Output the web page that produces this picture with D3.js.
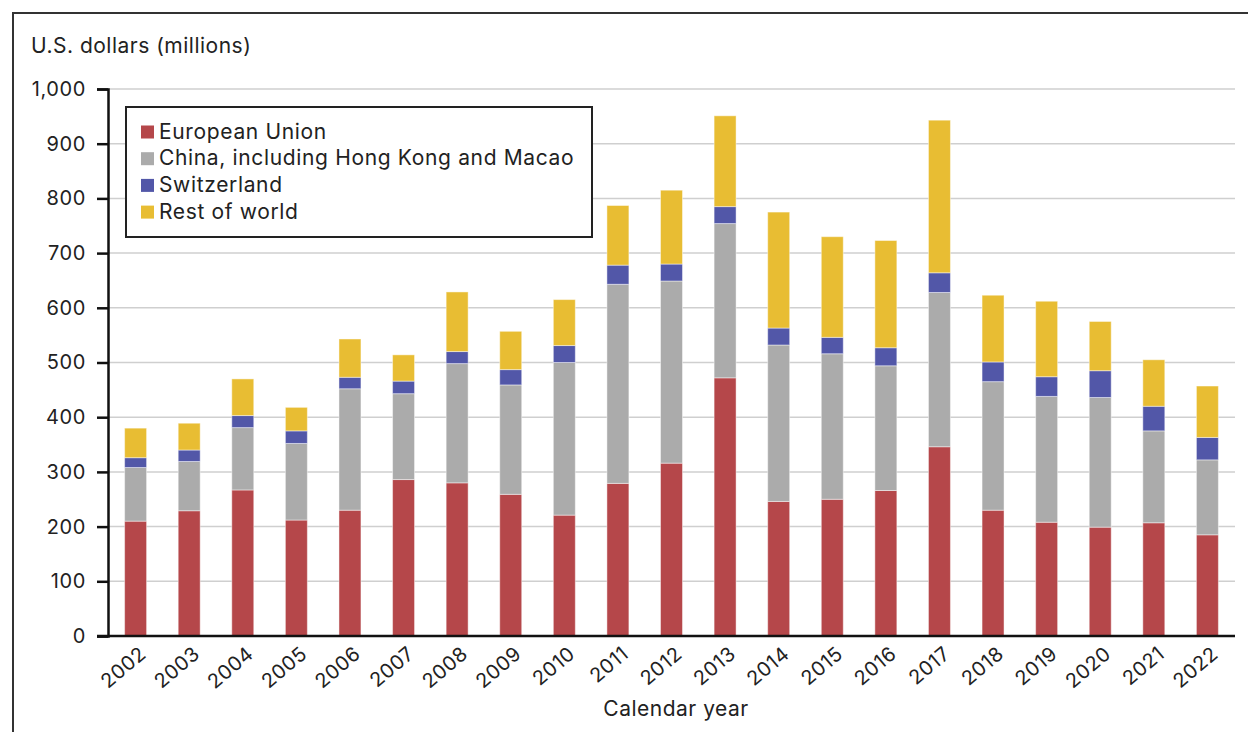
<!DOCTYPE html>
<html><head><meta charset="utf-8">
<script src="https://cdn.jsdelivr.net/npm/d3@7"></script>
<style>
html,body{margin:0;padding:0;background:#fff;}
svg{display:block;font-family:Inter,"Noto Sans",sans-serif;}
</style></head>
<body>
<svg id="chart" width="1248" height="732"></svg>
<script>
const years = ["2002","2003","2004","2005","2006","2007","2008","2009","2010","2011","2012","2013","2014","2015","2016","2017","2018","2019","2020","2021","2022"];
const seriesNames = ["European Union","China, including Hong Kong and Macao","Switzerland","Rest of world"];
const euValues    = [210,229,267,212,230,286,280,259,221,279,316,472,246,250,266,346,230,208,199,207,185];
const chinaValues = [98,90,114,140,222,157,218,200,279,364,333,282,286,266,228,282,235,230,237,168,137];
const swissValues = [18,21,22,23,21,23,22,28,31,35,31,31,31,30,33,36,36,36,49,45,41];
const restValues  = [54,49,67,43,70,48,109,70,84,109,135,166,212,184,196,279,122,138,90,85,94];
const yTicks = [0,100,200,300,400,500,600,700,800,900,1000];
const colors = ["#b5474a","#ababab","#5257a8","#e8bd33"];

const svg = d3.select("#chart");
const keys = ["eu","china","swiss","rest"];
const table = years.map((y,i)=>({year:y, eu:euValues[i], china:chinaValues[i], swiss:swissValues[i], rest:restValues[i]}));
const stack = d3.stack().keys(keys)(table);

const x = d3.scaleBand().domain(years).range([108,1235]).paddingInner(0.59).paddingOuter(0.31);
const y = d3.scaleLinear().domain([0,1000]).range([636,89]);

// outer frame
svg.append("path").attr("d","M13,732 L13,13 L1248,13").attr("fill","none").attr("stroke","#333").attr("stroke-width",2);

// gridlines
svg.append("g").selectAll("line").data(yTicks.filter(d=>d>0)).join("line")
  .attr("x1",108).attr("x2",1235).attr("y1",d=>y(d)).attr("y2",d=>y(d))
  .attr("stroke","#cfcfcf").attr("stroke-width",1.5);

// bars
svg.append("g").selectAll("g").data(stack).join("g")
  .attr("fill",(d,i)=>colors[i])
  .selectAll("rect").data(d=>d).join("rect")
  .attr("x",d=>x(d.data.year)).attr("width",x.bandwidth())
  .attr("y",d=>y(d[1])).attr("height",d=>y(d[0])-y(d[1]))
  .attr("stroke","rgba(255,255,255,0.45)").attr("stroke-width",1);

// y axis
const yAxis = svg.append("g").attr("transform","translate(108,0)")
  .call(d3.axisLeft(y).tickValues(yTicks).tickSize(11).tickPadding(11).tickFormat(d3.format(",")));
yAxis.select(".domain").attr("stroke","#111").attr("stroke-width",2.5);
yAxis.selectAll(".tick line").attr("stroke","#111").attr("stroke-width",2.5);
yAxis.selectAll(".tick text").attr("font-size",20).attr("letter-spacing","0.6px").attr("fill","#222").attr("font-family","Inter,sans-serif");

// x axis
const xAxis = svg.append("g").attr("transform","translate(0,636)")
  .call(d3.axisBottom(x).tickSize(0).tickPadding(0));
xAxis.select(".domain").attr("stroke","#111").attr("stroke-width",2.5).attr("d","M97,0H1235");
xAxis.selectAll(".tick text")
  .attr("font-size",20).attr("letter-spacing","0.5px").attr("fill","#222").attr("font-family","Inter,sans-serif")
  .attr("text-anchor","end").attr("dy",0)
  .attr("transform","translate(12,20) rotate(-40)");

// axis titles
svg.append("text").attr("x",31).attr("y",53).attr("font-size",21).attr("letter-spacing","0.5px").attr("fill","#222").text("U.S. dollars (millions)");
svg.append("text").attr("x",676).attr("y",716).attr("text-anchor","middle").attr("font-size",21).attr("letter-spacing","0.5px").attr("fill","#222").text("Calendar year");

// legend
const lg = svg.append("g");
lg.append("rect").attr("x",126).attr("y",107).attr("width",466).attr("height",130)
  .attr("fill","#fff").attr("stroke","#222").attr("stroke-width",2);
const items = lg.selectAll("g.item").data(seriesNames).join("g").attr("class","item")
  .attr("transform",(d,i)=>`translate(0,${i*26.7})`);
items.append("rect").attr("x",141).attr("y",125.5).attr("width",13).attr("height",13).attr("fill",(d,i)=>colors[i]);
items.append("text").attr("x",159).attr("y",138.5).attr("font-size",21).attr("letter-spacing","0.65px").attr("fill","#222").text(d=>d);
</script>
</body></html>
